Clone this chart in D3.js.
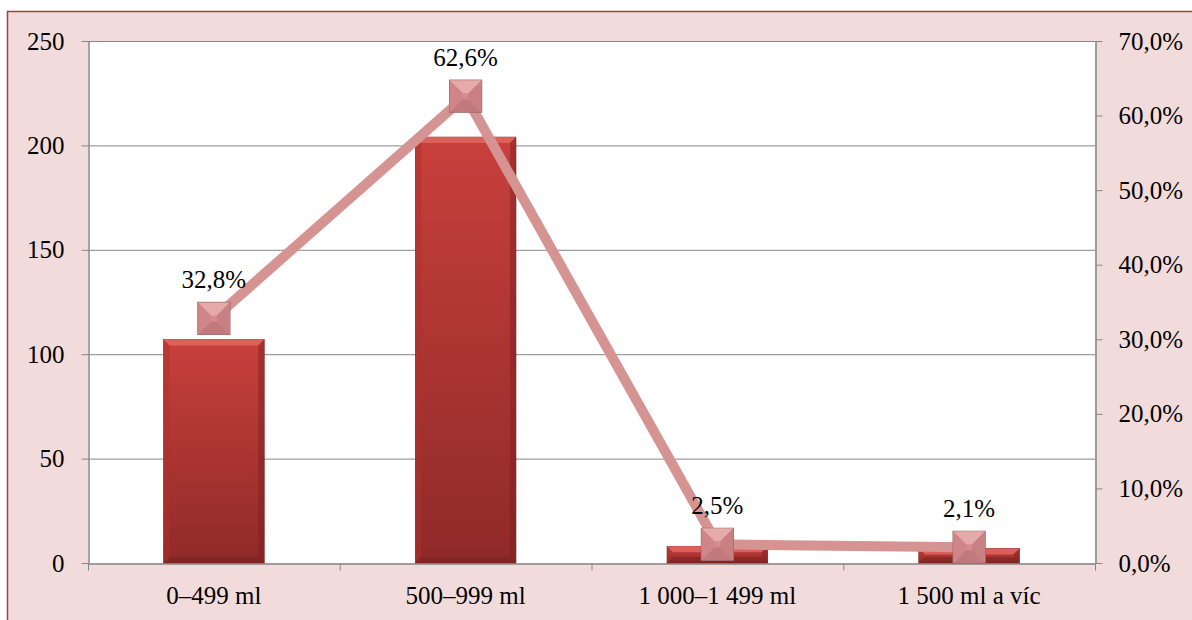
<!DOCTYPE html>
<html>
<head>
<meta charset="utf-8">
<script src="https://cdn.jsdelivr.net/npm/d3@7"></script>
<style>
  body { margin: 0; background: #fff; }
  svg { display: block; }
</style>
</head>
<body>
<div id="chart"></div>
<script>
// data
const categories = ["0–499 ml", "500–999 ml", "1 000–1 499 ml", "1 500 ml a víc"];
const counts = [107, 204, 8, 7];
const shares = [32.8, 62.6, 2.5, 2.1];
const leftTicks = [0, 50, 100, 150, 200, 250];
const rightTicks = [0, 10, 20, 30, 40, 50, 60, 70];

const W = 1192, H = 620;
const plot = { left: 88, right: 1095, top: 41, bottom: 563 };
const FONT = '"Liberation Serif", "Times New Roman", "DejaVu Serif", serif';
const FS = "25px";

const svg = d3.select("#chart").append("svg")
    .attr("width", W)
    .attr("height", H);

const defs = svg.append("defs");
const barGrad = defs.append("linearGradient")
    .attr("id", "barGrad").attr("x1", 0).attr("y1", 0).attr("x2", 0).attr("y2", 1);
barGrad.append("stop").attr("offset", "0%").attr("stop-color", "#c8403c");
barGrad.append("stop").attr("offset", "100%").attr("stop-color", "#8f2a28");

// outer frame
svg.append("rect")
    .attr("x", 7.5).attr("y", 11.5)
    .attr("width", W + 20).attr("height", H + 20)
    .attr("fill", "#f2dcdb")
    .attr("stroke", "#a0413d")
    .attr("stroke-width", 1.5);

svg.append("rect")
    .attr("x", plot.left).attr("y", plot.top)
    .attr("width", plot.right - plot.left).attr("height", plot.bottom - plot.top)
    .attr("fill", "#fff");

const x = d3.scaleBand().domain(categories).range([plot.left, plot.right]).paddingInner(0.6).paddingOuter(0.3);
const xBand = d3.scaleBand().domain(categories).range([plot.left, plot.right]);
const yL = d3.scaleLinear().domain([0, 250]).range([plot.bottom, plot.top]);
const yR = d3.scaleLinear().domain([0, 70]).range([plot.bottom, plot.top]);

// gridlines
svg.append("g").selectAll("line")
    .data(leftTicks.slice(1))
    .join("line")
    .attr("x1", plot.left).attr("x2", plot.right)
    .attr("y1", d => yL(d) + 0.5).attr("y2", d => yL(d) + 0.5)
    .attr("stroke", "#868686").attr("stroke-width", 1);

// left axis
const gL = svg.append("g")
    .attr("transform", `translate(${plot.left + 0.5},0)`)
    .call(d3.axisLeft(yL).tickValues(leftTicks).tickSize(7).tickPadding(17).tickSizeOuter(0));
// right axis
const gR = svg.append("g")
    .attr("transform", `translate(${plot.right + 0.5},0)`)
    .call(d3.axisRight(yR).tickValues(rightTicks).tickSize(7).tickPadding(16).tickSizeOuter(0)
        .tickFormat(d => d.toFixed(1).replace(".", ",") + "%"));
// bottom axis
const gB = svg.append("g")
    .attr("transform", `translate(0,${plot.bottom + 0.5})`)
    .call(d3.axisBottom(xBand).tickSize(0).tickPadding(23).tickSizeOuter(0));
gB.selectAll(".tick-b")
    .data(categories.concat([null]))
    .join("line")
    .attr("x1", (d, i) => (i < categories.length ? xBand(d) : plot.right) + 0.5)
    .attr("x2", (d, i) => (i < categories.length ? xBand(d) : plot.right) + 0.5)
    .attr("y1", 0).attr("y2", 7)
    .attr("stroke", "#868686");

[gL, gR, gB].forEach(g => {
  g.selectAll(".domain").attr("stroke", "#868686").attr("stroke-width", 1.5);
  g.selectAll(".tick line").attr("stroke", "#868686");
  g.selectAll("text").style("font-size", FS).style("font-family", FONT).style("fill", "#000");
});

// bars with bevel
const bars = svg.append("g").selectAll("g").data(categories).join("g");
bars.each(function(c, i) {
  const g = d3.select(this);
  const x0 = x(c), bw = x.bandwidth();
  const y0 = yL(counts[i]), y1 = yL(0);
  const b = Math.min(6, (y1 - y0) / 2);
  g.append("rect").attr("x", x0).attr("y", y0).attr("width", bw).attr("height", y1 - y0)
      .attr("fill", "url(#barGrad)").attr("stroke", "#7a2220").attr("stroke-width", 0.6);
  g.append("path")
      .attr("d", `M${x0},${y0}L${x0 + bw},${y0}L${x0 + bw - b},${y0 + b}L${x0 + b},${y0 + b}Z`)
      .attr("fill", "#e06a62").attr("opacity", 0.8);
  g.append("path")
      .attr("d", `M${x0},${y0}L${x0 + b},${y0 + b}L${x0 + b},${y1 - b}L${x0},${y1}Z`)
      .attr("fill", "#b0302c").attr("opacity", 0.5);
  g.append("path")
      .attr("d", `M${x0 + bw},${y0}L${x0 + bw - b},${y0 + b}L${x0 + bw - b},${y1 - b}L${x0 + bw},${y1}Z`)
      .attr("fill", "#7a201e").attr("opacity", 0.45);
  g.append("path")
      .attr("d", `M${x0},${y1}L${x0 + b},${y1 - b}L${x0 + bw - b},${y1 - b}L${x0 + bw},${y1}Z`)
      .attr("fill", "#6e1c1a").attr("opacity", 0.35);
});

// line
const cx = c => xBand(c) + xBand.bandwidth() / 2;
const line = d3.line().x((d, i) => cx(categories[i])).y(d => yR(d));
svg.append("path")
    .datum(shares)
    .attr("d", line)
    .attr("fill", "none")
    .attr("stroke", "#d59391")
    .attr("stroke-width", 10)
    .attr("stroke-linejoin", "round");

// markers
const s = 16, m = 3;
const markers = svg.append("g").selectAll("g").data(shares).join("g")
    .attr("transform", (d, i) => `translate(${cx(categories[i])},${yR(d)})`);
markers.append("rect").attr("x", -s).attr("y", -s).attr("width", 2 * s).attr("height", 2 * s)
    .attr("fill", "#d48c8e").attr("stroke", "#a06466").attr("stroke-width", 1.2);
markers.append("path").attr("d", `M${-s},${-s}L${s},${-s}L${m},${-m}L${-m},${-m}Z`).attr("fill", "#e6aaab");
markers.append("path").attr("d", `M${-s},${s}L${s},${s}L${m},${m}L${-m},${m}Z`).attr("fill", "#c07a7c");
markers.append("path").attr("d", `M${-s},${-s}L${-m},${-m}L${-m},${m}L${-s},${s}Z`).attr("fill", "#d08688");
markers.append("path").attr("d", `M${s},${-s}L${m},${-m}L${m},${m}L${s},${s}Z`).attr("fill", "#c98083");

// data labels
svg.append("g").selectAll("text").data(shares).join("text")
    .attr("x", (d, i) => cx(categories[i]))
    .attr("y", d => yR(d) - 30)
    .attr("text-anchor", "middle")
    .style("font-size", FS)
    .style("font-family", FONT)
    .text(d => d.toFixed(1).replace(".", ",") + "%");
</script>
</body>
</html>
